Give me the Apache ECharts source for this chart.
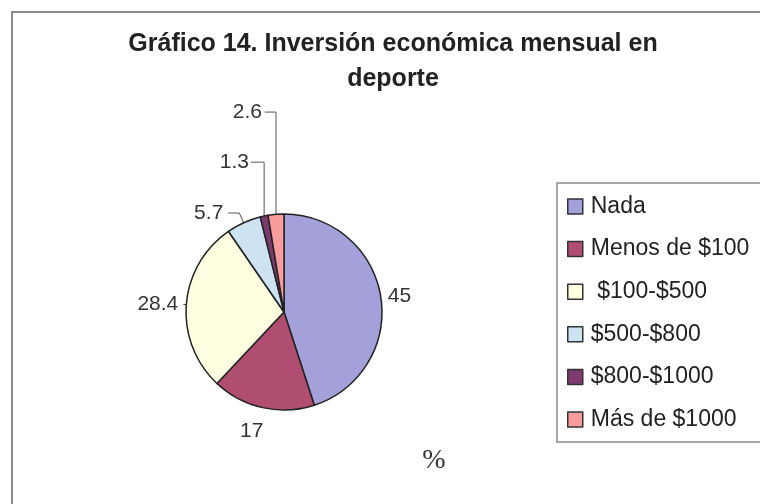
<!DOCTYPE html>
<html>
<head>
<meta charset="utf-8">
<script src="https://cdn.jsdelivr.net/npm/echarts@6/dist/echarts.min.js"></script>
<style>
  html, body { margin: 0; padding: 0; background: #ffffff; }
  #chart { width: 760px; height: 504px; }
</style>
</head>
<body>
<div id="chart"></div>
<script>
// ---- data ----
const titleText = 'Gráfico 14. Inversión económica mensual en\ndeporte';
const unitText = '%';
const categories = ['Nada', 'Menos de $100', ' $100-$500', '$500-$800', '$800-$1000', 'Más de $1000'];
const values = [45, 17, 28.4, 5.7, 1.3, 2.6];

// ---- styles (kept separate from data) ----
const sliceColors = ['#A3A0DA', '#B04E72', '#FEFEE0', '#CDE3F1', '#7D3A6F', '#F99C9E'];
const leaderLen = [4, 24, 3, 10.6, 55, 102.6];
const leaderLen2 = [0, 0, 0, 11, 2, 3];
const leaderDist = [3, -6, 5, 5, 2, 2.6];
const leaderShow = [false, false, true, true, true, true];
const leaderVertical = [false, false, false, false, true, true];
const labelPad = [[0, 0, 12, 0], 0, 0, 0, 0, 0];

const pieData = categories.map((name, i) => ({
  name: name,
  value: values[i],
  itemStyle: { color: sliceColors[i] },
  label: { distanceToLabelLine: leaderDist[i], padding: labelPad[i] },
  labelLine: { show: leaderShow[i], length: leaderLen[i], length2: leaderLen2[i] }
}));

const chart = echarts.init(document.getElementById('chart'), null, { renderer: 'canvas' });
chart.setOption({
  animation: false,
  backgroundColor: '#ffffff',
  title: {
    text: titleText,
    left: 393,
    top: 27,
    padding: 0,
    textAlign: 'center',
    textStyle: {
      fontFamily: 'Liberation Sans, Arial, sans-serif',
      fontSize: 25,
      fontWeight: 'bold',
      color: '#222222',
      lineHeight: 35
    }
  },
  graphic: [
    {
      type: 'rect',
      z: -10,
      silent: true,
      shape: { x: 12, y: 12, width: 820, height: 600 },
      style: { fill: 'none', stroke: '#8a8a8a', lineWidth: 2 }
    },
    {
      type: 'text',
      x: 434,
      y: 461,
      silent: true,
      style: {
        text: unitText,
        fontFamily: 'Liberation Serif, Times New Roman, serif',
        fontSize: 28,
        fill: '#333333',
        align: 'center',
        verticalAlign: 'middle'
      }
    }
  ],
  legend: {
    orient: 'vertical',
    left: 557,
    top: 183,
    padding: [12, 40, 11, 10],
    itemWidth: 15,
    itemHeight: 15,
    itemGap: 19.6,
    icon: 'rect',
    borderColor: '#8a8a8a',
    borderWidth: 1.5,
    itemStyle: { borderColor: '#333333', borderWidth: 1.5 },
    textStyle: {
      fontFamily: 'Liberation Sans, Arial, sans-serif',
      fontSize: 23,
      lineHeight: 23,
      color: '#222222',
      padding: [0, 0, 0, 3]
    },
    data: categories
  },
  series: [{
    type: 'pie',
    center: [284, 312],
    radius: 98,
    startAngle: 90,
    clockwise: true,
    avoidLabelOverlap: false,
    emphasis: { disabled: true },
    itemStyle: { borderColor: '#222222', borderWidth: 1.5 },
    label: {
      show: true,
      position: 'outside',
      formatter: '{c}',
      fontFamily: 'Liberation Sans, Arial, sans-serif',
      fontSize: 21,
      color: '#333333'
    },
    labelLine: {
      lineStyle: { color: '#555555', width: 1 }
    },
    labelLayout: function (params) {
      const pts = params.labelLinePoints;
      if (!leaderVertical[params.dataIndex] || !pts || pts.length < 3) return {};
      const p = pts.map(function (q) { return [q[0], q[1]]; });
      p[1][0] = p[0][0];
      return { labelLinePoints: p };
    },
    data: pieData
  }]
});
</script>
</body>
</html>
